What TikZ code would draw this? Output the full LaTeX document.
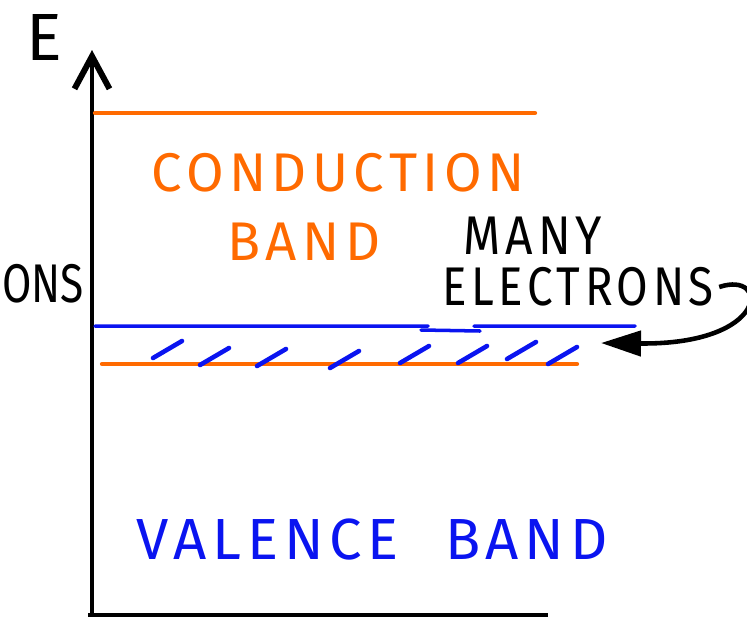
\documentclass[tikz,border=0pt]{standalone}
\usepackage{fontspec}
\newfontfamily\handfont[LetterSpace=10]{Fira Sans}
\usetikzlibrary{arrows.meta}
\definecolor{bandorange}{HTML}{FF6A00}
\definecolor{bandblue}{HTML}{0A14F0}
\tikzset{
  axisLine/.style={line width=1.8pt, draw=black},
  bandLine/.style={line width=2.4pt, line cap=round},
  hatchMark/.style={draw=bandblue, line width=2.6pt, line cap=round},
  bandLabel/.style={font=\handfont\fontsize{31}{36}\selectfont, inner sep=0pt},
  noteArrow/.style={-{Triangle[length=8mm, width=5mm]}, line width=2.6pt, draw=black}
}
\begin{document}
\begin{tikzpicture}[x=0.2mm, y=-0.2mm]
  \useasboundingbox (0,0) rectangle (747,618);
  \draw[axisLine, -{Straight Barb[length=6.5mm, width=7mm, line width=3.4pt]}] (92,615) -- (92,50);
  \draw[axisLine, line width=2.2pt] (88,615) -- (548,615);
  \node[bandLabel, font=\handfont\fontsize{38}{44}\selectfont] (energy) at (44,37) {E};
  \draw[bandLine, draw=bandorange] (95,113) -- (535,113);
  \draw[bandLine, draw=bandorange] (102,364) -- (577,364);
  \draw[bandLine, draw=bandblue, line width=2pt] (95,326) -- (428,326) (421,330) -- (480,331) (474,326) -- (635,326);
  \coordinate (fermi) at (601,343);
  \foreach \x/\y in {153/358, 200/365, 257/366, 330/368, 400/363, 458/363, 507/359, 548/364}
    \draw[hatchMark] (\x,\y) -- ++(29,-17);
  \node[bandLabel, text=bandorange] (cond) at (338,173) {CONDUCTION};
  \node[bandLabel, text=bandorange] (condband) at (304,242) {BAND};
  \node[bandLabel] (many) at (533,236) {\scalebox{0.88}[1]{MANY}};
  \node[bandLabel] (electrons) at (578,287) {\scalebox{0.84}[1]{ELECTRONS}};
  \node[bandLabel, font=\fontspec{Fira Sans}\fontsize{31}{36}\selectfont, anchor=west] (cutlabel) at (2,284) {\scalebox{0.78}[1]{ONS}};
  \node[bandLabel, text=bandblue, font=\handfont\fontsize{33}{38}\selectfont] (valence) at (372,540) {VALENCE\hspace{0.8em}BAND};
  \draw[noteArrow] ([xshift=1mm]electrons.east) .. controls (770,270) and (770,345) .. (fermi);
\end{tikzpicture}
\end{document}
